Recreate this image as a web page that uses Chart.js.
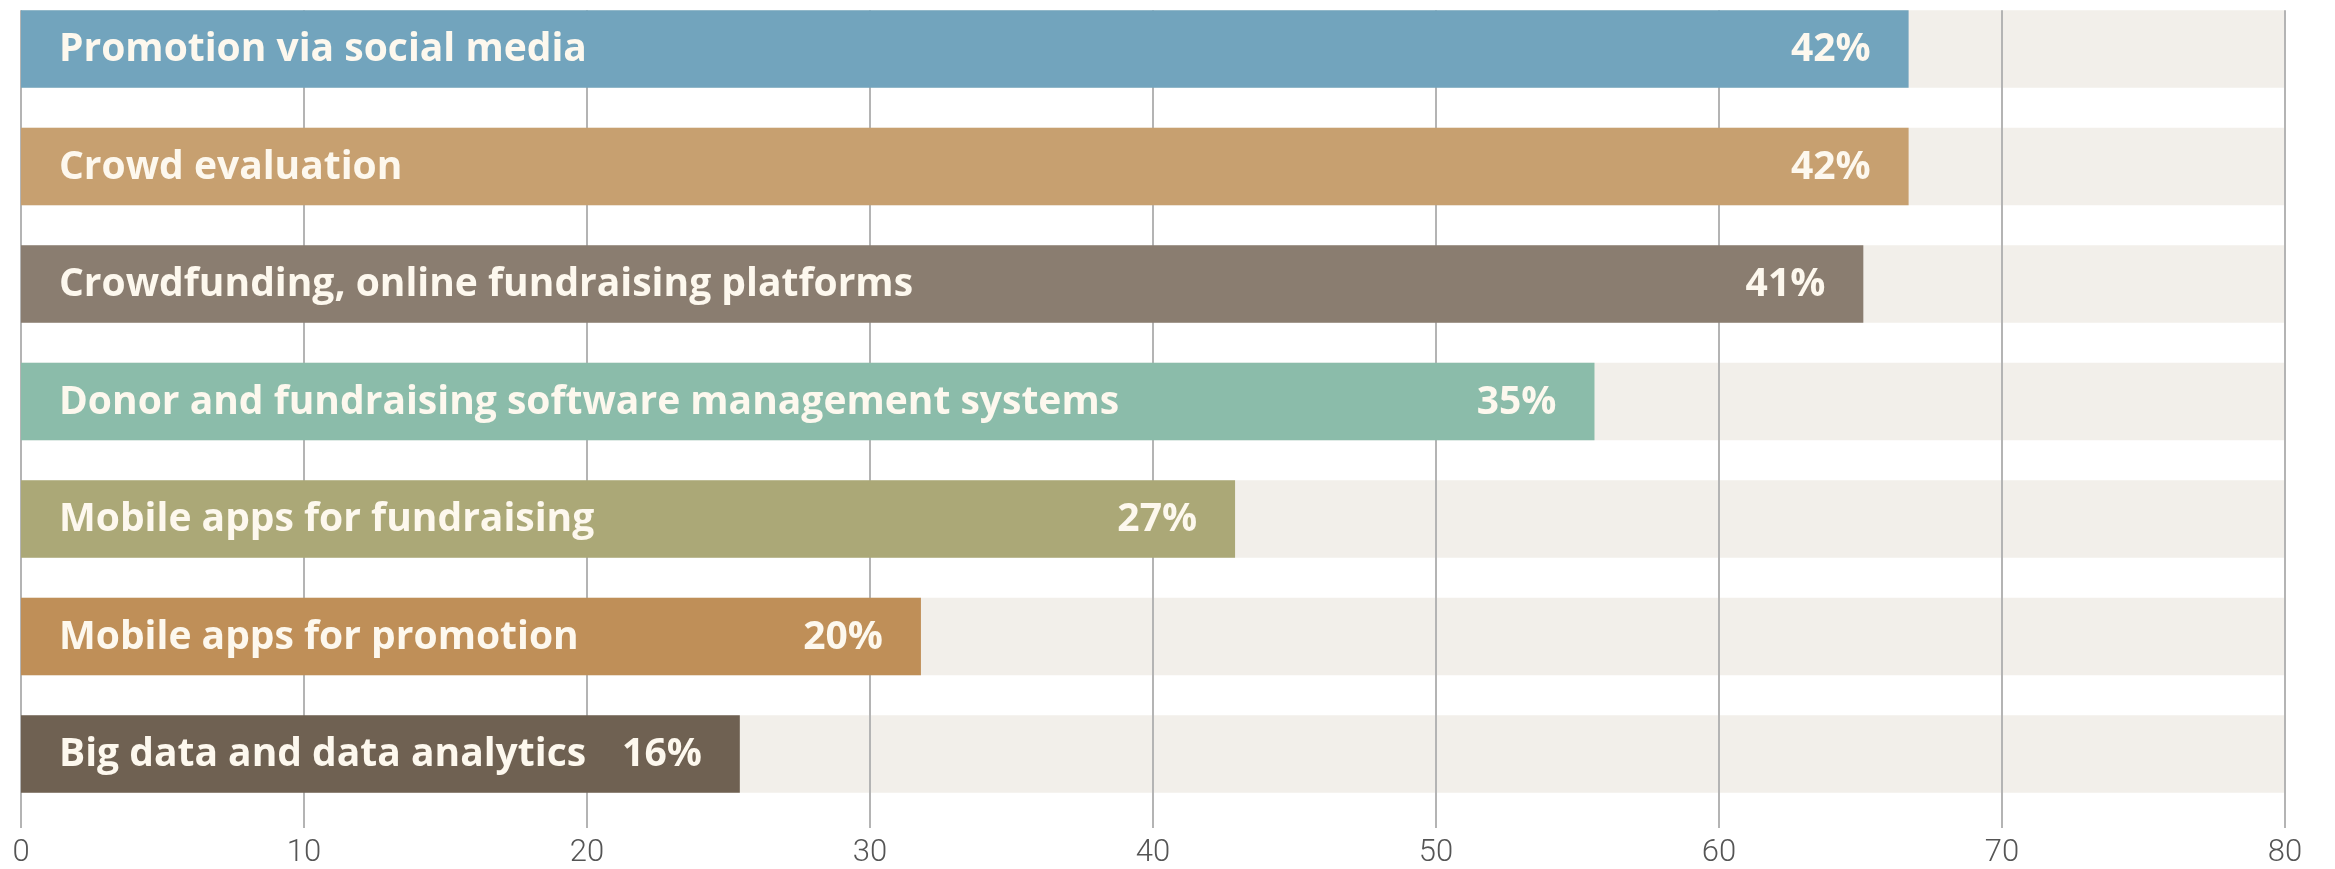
<!DOCTYPE html>
<html>
<head>
<meta charset="utf-8"/>
<title>Fundraising technologies</title>
<script src="https://cdn.jsdelivr.net/npm/chart.js"></script>
<style>
  html, body {
    margin: 0;
    padding: 0;
    background: #ffffff;
  }
  .wrap {
    width: 2335px;
    height: 869px;
    position: relative;
  }
</style>
</head>
<body>
<div class="wrap"><canvas id="chart"></canvas></div>
<script>
  const categories = [
    'Promotion via social media',
    'Crowd evaluation',
    'Crowdfunding, online fundraising platforms',
    'Donor and fundraising software management systems',
    'Mobile apps for fundraising',
    'Mobile apps for promotion',
    'Big data and data analytics'
  ];
  // bar lengths as read against the 0-80 axis
  const barValues = [66.7, 66.7, 65.1, 55.6, 42.9, 31.8, 25.4];
  const pctLabels = ['42%', '42%', '41%', '35%', '27%', '20%', '16%'];
  const trackValues = [80, 80, 80, 80, 80, 80, 80];
  const barColors = ['#72a4bd', '#c7a070', '#8a7d70', '#8bbcaa', '#aba877', '#bf8f58', '#6f6152'];
  const xTicks = [0, 10, 20, 30, 40, 50, 60, 70, 80];

  const labelFont = 'bold 39px "Open Sans"';

  // grid lines sit on top of the beige tracks but under the coloured bars
  const gridBetween = {
    id: 'gridBetween',
    afterDatasetDraw(chart, args) {
      if (args.index !== 0) return;
      const ctx = chart.ctx;
      const x = chart.scales.x;
      const first = chart.getDatasetMeta(0).data[0];
      const top = first.y - first.height / 2;
      const bottom = chart.chartArea.bottom + 74;
      ctx.save();
      ctx.strokeStyle = '#b4b4b4';
      ctx.lineWidth = 2;
      x.ticks.forEach(t => {
        const px = Math.round(x.getPixelForValue(t.value));
        ctx.beginPath();
        ctx.moveTo(px, top);
        ctx.lineTo(px, bottom);
        ctx.stroke();
      });
      ctx.restore();
    }
  };

  const barText = {
    id: 'barText',
    afterDatasetsDraw(chart) {
      const ctx = chart.ctx;
      const meta = chart.getDatasetMeta(1);
      ctx.save();
      ctx.font = labelFont;
      ctx.fillStyle = '#fdf8ee';
      ctx.textBaseline = 'middle';
      meta.data.forEach((bar, i) => {
        ctx.textAlign = 'left';
        ctx.fillText(categories[i], bar.base + 38, bar.y + 1);
        ctx.textAlign = 'right';
        ctx.fillText(pctLabels[i], bar.x - 38, bar.y + 1);
      });
      ctx.restore();
    }
  };

  new Chart(document.getElementById('chart'), {
    type: 'bar',
    data: {
      labels: categories,
      datasets: [
        {
          data: trackValues,
          backgroundColor: '#f2efea',
          grouped: false,
          order: 2,
          categoryPercentage: 1,
          barPercentage: 0.66,
          clip: false
        },
        {
          data: barValues,
          backgroundColor: barColors,
          grouped: false,
          order: 1,
          categoryPercentage: 1,
          barPercentage: 0.66,
          clip: false
        }
      ]
    },
    options: {
      indexAxis: 'y',
      responsive: true,
      maintainAspectRatio: false,
      animation: false,
      layout: { padding: { left: 21, right: 50, top: 49, bottom: 0 } },
      plugins: {
        legend: { display: false },
        tooltip: { enabled: false }
      },
      scales: {
        x: {
          min: 0,
          max: 80,
          afterBuildTicks: axis => { axis.ticks = xTicks.map(v => ({ value: v })); },
          grid: { display: false, drawTicks: true, tickLength: 84 },
          border: { display: false },
          ticks: {
            padding: 0,
            maxRotation: 0,
            color: '#555555',
            font: { family: 'Roboto', size: 31, weight: '300', lineHeight: 1 }
          }
        },
        y: {
          offset: false,
          display: false,
          grid: { display: false }
        }
      }
    },
    plugins: [gridBetween, barText]
  });
</script>
</body>
</html>
